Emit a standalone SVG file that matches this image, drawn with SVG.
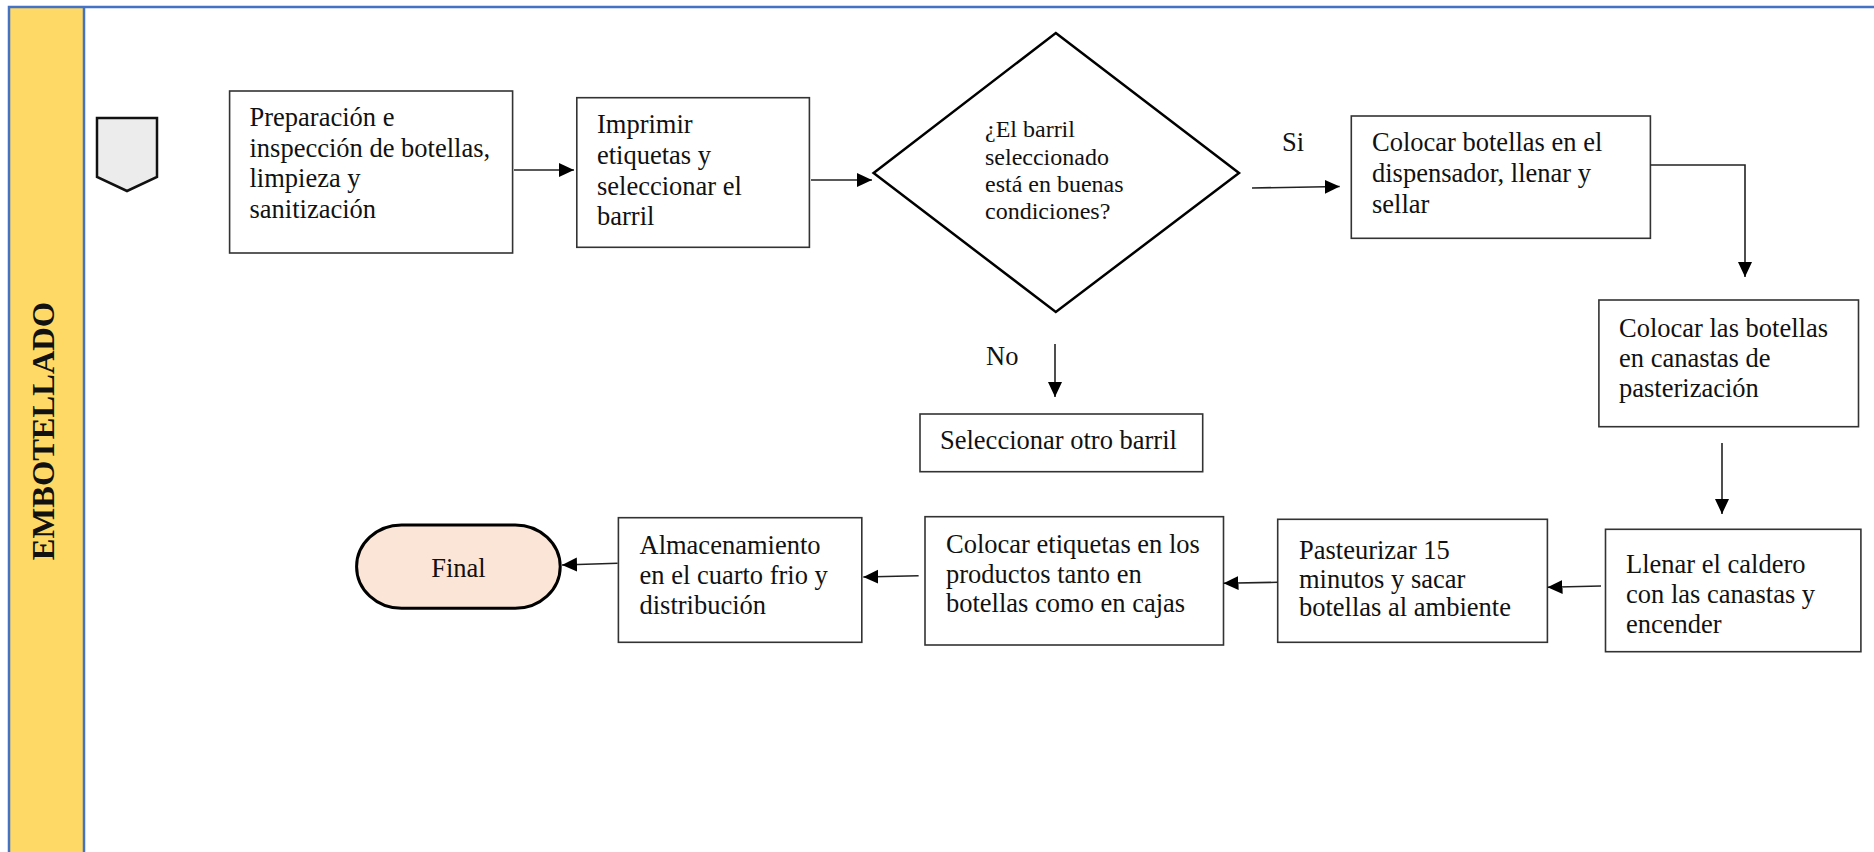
<svg xmlns="http://www.w3.org/2000/svg" width="1874" height="852" viewBox="0 0 1874 852">
<style>
.box{fill:#fff;stroke:#333;stroke-width:1.6}
.t{font-family:"Liberation Serif","Times New Roman",serif;font-size:26.5px;fill:#111}
.td{font-family:"Liberation Serif","Times New Roman",serif;font-size:24px;fill:#111}
.c{fill:none;stroke:#222;stroke-width:1.6;marker-end:url(#ah)}
.lane{stroke:#4472c4;stroke-width:2.5;fill:none}
</style>
<defs>
<marker id="ah" markerUnits="userSpaceOnUse" markerWidth="16" markerHeight="15" refX="15" refY="7" orient="auto" viewBox="0 0 16 15">
<path d="M0,0 L15,7 L0,14 z" fill="#000"/>
</marker>
</defs>
<rect width="1874" height="852" fill="#fff"/>
<g id="lane">
<rect x="9" y="7" width="75" height="850" fill="#ffd966"/>
<path class="lane" d="M9,852 V7 H1874 M84,7 V852"/>
<text transform="translate(54,431) rotate(-90)" text-anchor="middle" style="font-family:'Liberation Serif','Times New Roman',serif;font-size:32.5px;font-weight:bold;fill:#111">EMBOTELLADO</text>
</g>
<g id="start">
<polygon points="97,118 157,118 157,177 127,191 97,177" fill="#ececec" stroke="#111" stroke-width="2.5"/>
</g>
<g id="n1">
<rect class="box" x="229.6" y="91" width="283" height="162"/>
<text class="t" x="249.5" y="126">Preparación e</text>
<text class="t" x="249.5" y="156.6">inspección de botellas,</text>
<text class="t" x="249.5" y="187.2">limpieza y</text>
<text class="t" x="249.5" y="217.8">sanitización</text>
</g>
<g id="n2">
<rect class="box" x="576.8" y="97.7" width="232.6" height="149.6"/>
<text class="t" x="597" y="133">Imprimir</text>
<text class="t" x="597" y="164">etiquetas y</text>
<text class="t" x="597" y="195">seleccionar el</text>
<text class="t" x="597" y="225">barril</text>
</g>
<g id="decision">
<polygon points="1055.8,33 1239,173 1055.8,312 873.6,173" fill="#fff" stroke="#000" stroke-width="2.5"/>
<text class="td" x="985" y="137">¿El barril</text>
<text class="td" x="985" y="164.5">seleccionado</text>
<text class="td" x="985" y="192">está en buenas</text>
<text class="td" x="985" y="219">condiciones?</text>
</g>
<g id="n3">
<rect class="box" x="1351.3" y="116" width="299.1" height="122.3"/>
<text class="t" x="1372" y="150.7">Colocar botellas en el</text>
<text class="t" x="1372" y="181.7">dispensador, llenar y</text>
<text class="t" x="1372" y="212.7">sellar</text>
</g>
<g id="n4">
<rect class="box" x="1598.9" y="300" width="259.6" height="126.7"/>
<text class="t" x="1619" y="336.7">Colocar las botellas</text>
<text class="t" x="1619" y="366.7">en canastas de</text>
<text class="t" x="1619" y="396.7">pasterización</text>
</g>
<g id="n-no">
<rect class="box" x="920" y="414" width="282.7" height="57.7"/>
<text class="t" x="940" y="449.3">Seleccionar otro barril</text>
</g>
<g id="n5">
<rect class="box" x="1605.5" y="529.3" width="255.4" height="122.4"/>
<text class="t" x="1626" y="573.3">Llenar el caldero</text>
<text class="t" x="1626" y="603.3">con las canastas y</text>
<text class="t" x="1626" y="633.3">encender</text>
</g>
<g id="n6">
<rect class="box" x="1277.7" y="519.3" width="269.7" height="123"/>
<text class="t" x="1299" y="559">Pasteurizar 15</text>
<text class="t" x="1299" y="587.5">minutos y sacar</text>
<text class="t" x="1299" y="615.5">botellas al ambiente</text>
</g>
<g id="n7">
<rect class="box" x="925" y="516.7" width="298.5" height="128.3"/>
<text class="t" x="946" y="552.7">Colocar etiquetas en los</text>
<text class="t" x="946" y="582.5">productos tanto en</text>
<text class="t" x="946" y="612.3">botellas como en cajas</text>
</g>
<g id="n8">
<rect class="box" x="618.4" y="517.7" width="243.4" height="124.6"/>
<text class="t" x="639.5" y="554">Almacenamiento</text>
<text class="t" x="639.5" y="584">en el cuarto frio y</text>
<text class="t" x="639.5" y="614.3">distribución</text>
</g>
<g id="final">
<rect x="356.6" y="525" width="203.6" height="83.3" rx="45" ry="41.6" fill="#fbe5d6" stroke="#000" stroke-width="3"/>
<text class="t" x="458.4" y="577" text-anchor="middle">Final</text>
</g>
<g id="labels">
<text class="t" x="1282" y="151">Si</text>
<text class="t" x="986" y="365">No</text>
</g>
<g id="connectors">
<path class="c" d="M514,170 H574"/>
<path class="c" d="M811,180 H872"/>
<path class="c" d="M1252,188 L1339.7,186.5"/>
<path class="c" d="M1650.4,165 H1745 V277"/>
<path class="c" d="M1055,344 V397"/>
<path class="c" d="M1722,443 V514"/>
<path class="c" d="M1601,586 L1547.5,587.3"/>
<path class="c" d="M1277.7,582.3 L1223.5,583.3"/>
<path class="c" d="M918.6,575.7 L863.3,577"/>
<path class="c" d="M617.6,563.3 L562,565"/>
</g>
</svg>
